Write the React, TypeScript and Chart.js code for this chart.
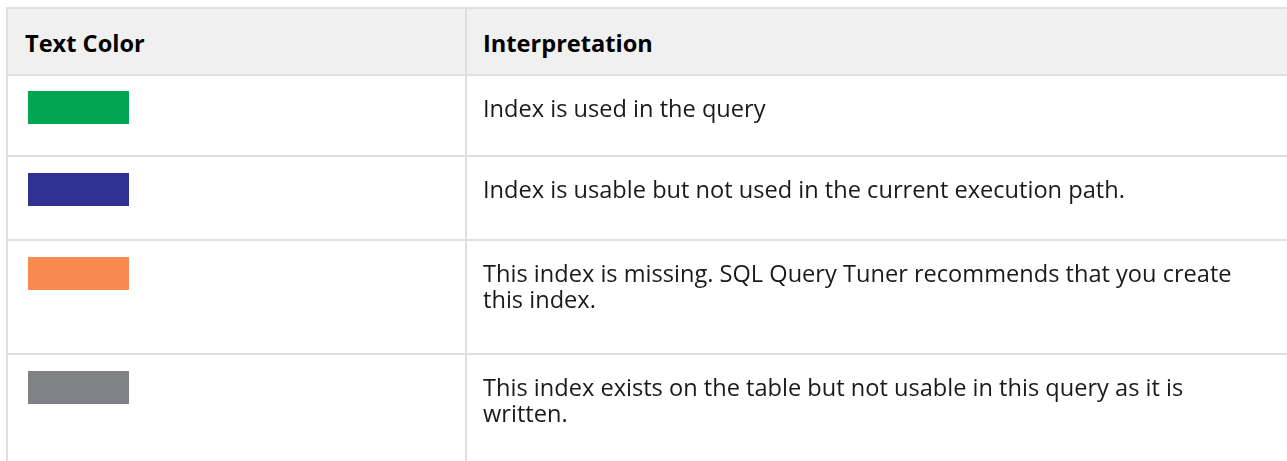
import React, { useEffect, useRef } from "react";
import { Chart, registerables } from "chart.js";
Chart.register(...registerables);

const headers = ["Text Color", "Interpretation"];
const colorNames = ["Green", "Blue", "Orange", "Gray"];
const swatchColors = ["#00a651", "#2e3192", "#f78a50", "#808184"];
const swatchValues = [1, 1, 1, 1];
const interpretations = [
  ["Index is used in the query"],
  ["Index is usable but not used in the current execution path."],
  ["This index is missing. SQL Query Tuner recommends that you create", "this index."],
  ["This index exists on the table but not usable in this query as it is", "written."],
];

const FONT = '"Open Sans", sans-serif';
const FONT_SIZE = 23.6;

function Swatch({ index }: { index: number }) {
  const ref = useRef<HTMLCanvasElement | null>(null);
  useEffect(() => {
    if (!ref.current) return;
    const chart = new Chart(ref.current, {
      type: "bar",
      data: {
        labels: [colorNames[index]],
        datasets: [
          {
            data: [swatchValues[index]],
            backgroundColor: swatchColors[index],
            borderWidth: 0,
            barPercentage: 1,
            categoryPercentage: 1,
          },
        ],
      },
      options: {
        indexAxis: "y",
        responsive: false,
        maintainAspectRatio: false,
        animation: false,
        devicePixelRatio: 1,
        layout: { padding: 0 },
        plugins: { legend: { display: false }, tooltip: { enabled: false } },
        scales: {
          x: { display: false, min: 0, max: 1 },
          y: { display: false },
        },
      },
    });
    return () => chart.destroy();
  }, [index]);
  return <canvas ref={ref} width={101} height={33} style={{ display: "block", width: 101, height: 33 }} />;
}

const BORDER = "2px solid #dfdfdf";
const rowHeights = [81, 84, 114, 200];

export default function App() {
  return (
    <div style={{ position: "absolute", left: 0, top: 0, width: 1287, height: 461, overflow: "hidden", background: "#fff" }}>
      <div
        style={{
          position: "absolute",
          left: 6,
          top: 7,
          width: 1400,
          borderLeft: BORDER,
          borderTop: BORDER,
          fontFamily: FONT,
          boxSizing: "border-box",
        }}
      >
        <div style={{ display: "flex", height: 67, background: "#f0f0f0", borderBottom: BORDER, boxSizing: "border-box" }}>
          <div style={{ width: 459, borderRight: BORDER, boxSizing: "border-box", display: "flex", alignItems: "center", paddingLeft: 17, paddingTop: 2, fontWeight: 700, fontSize: FONT_SIZE, color: "#000" }}>
            {headers[0]}
          </div>
          <div style={{ flex: 1, display: "flex", alignItems: "center", paddingLeft: 16, paddingTop: 2, fontWeight: 700, fontSize: FONT_SIZE, color: "#000" }}>
            {headers[1]}
          </div>
        </div>
        {interpretations.map((lines, i) => (
          <div key={i} style={{ display: "flex", height: rowHeights[i], borderBottom: BORDER, boxSizing: "border-box" }}>
            <div style={{ width: 459, borderRight: BORDER, boxSizing: "border-box", paddingLeft: 20, paddingTop: i === 0 ? 15 : 16 }}>
              <Swatch index={i} />
            </div>
            <div style={{ flex: 1, paddingLeft: 16, paddingTop: 19, fontSize: FONT_SIZE, lineHeight: "26px", color: "#1a1a1a", whiteSpace: "nowrap" }}>
              {lines.map((l, j) => (
                <div key={j}>{l}</div>
              ))}
            </div>
          </div>
        ))}
      </div>
    </div>
  );
}
